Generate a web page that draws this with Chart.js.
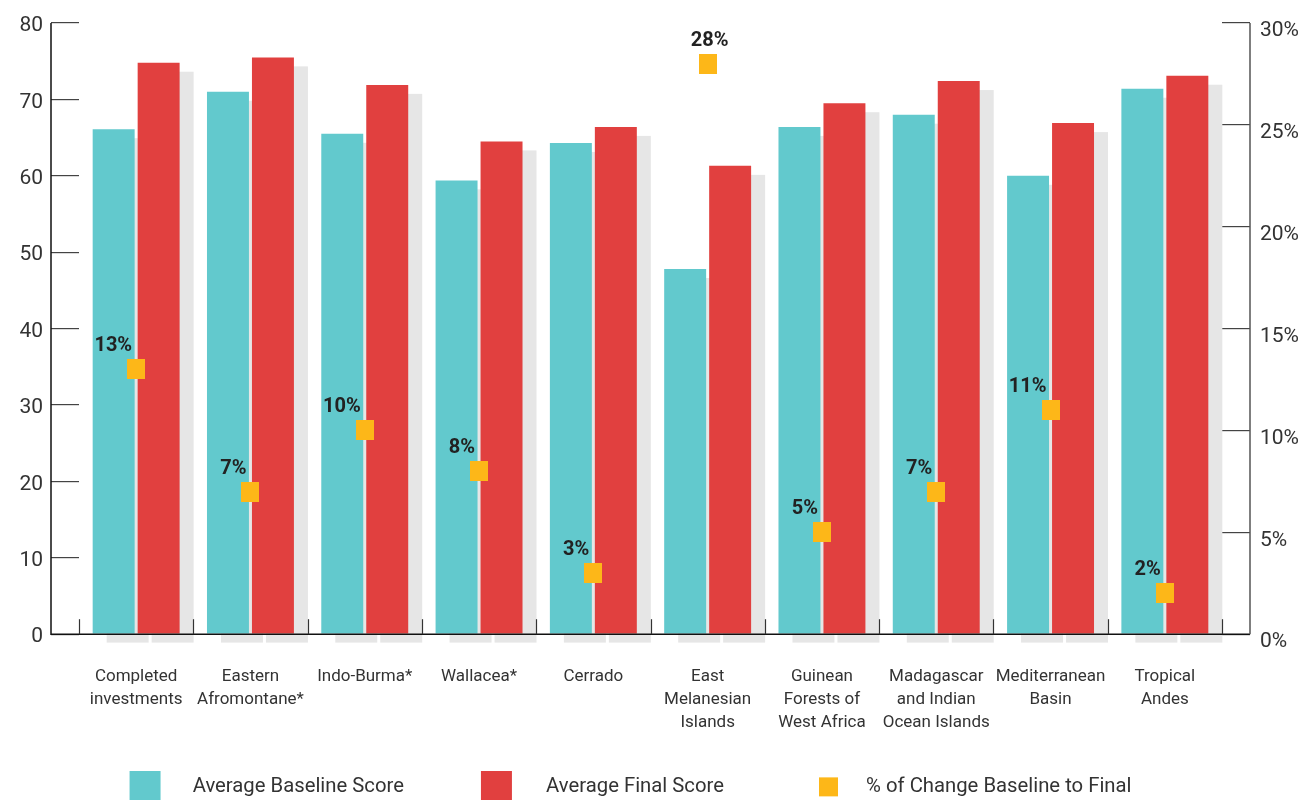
<!DOCTYPE html>
<html lang="en">
<head>
    <meta charset="UTF-8">
    <title>Average Baseline and Final Scores</title>
    <script src="https://cdn.jsdelivr.net/npm/chart.js"></script>
    <style>
        html, body {
            margin: 0;
            padding: 0;
            background: #ffffff;
            overflow: hidden;
        }
        .chart-container {
            width: 1300px;
            height: 800px;
        }
    </style>
</head>
<body>
    <div class="chart-container">
        <canvas id="scoreChart" width="1300" height="800"></canvas>
    </div>

    <script>
        // Chart data
        const categories = [
            ['Completed', 'investments'],
            ['Eastern', 'Afromontane*'],
            ['Indo-Burma*'],
            ['Wallacea*'],
            ['Cerrado'],
            ['East', 'Melanesian', 'Islands'],
            ['Guinean', 'Forests of', 'West Africa'],
            ['Madagascar', 'and Indian', 'Ocean Islands'],
            ['Mediterranean', 'Basin'],
            ['Tropical', 'Andes']
        ];
        const baselineScores = [66.1, 71.0, 65.5, 59.4, 64.3, 47.8, 66.4, 68.0, 60.0, 71.4];
        const finalScores = [74.8, 75.5, 71.9, 64.5, 66.4, 61.3, 69.5, 72.4, 66.9, 73.1];
        const changePercent = [13, 7, 10, 8, 3, 28, 5, 7, 11, 2];
        const seriesNames = ['Average Baseline Score', 'Average Final Score', '% of Change Baseline to Final'];
        const scoreTicks = [0, 10, 20, 30, 40, 50, 60, 70, 80];
        const percentTicks = [0, 5, 10, 15, 20, 25, 30];

        // Colours
        const TEAL = '#62c9cd';
        const RED = '#e1403f';
        const YELLOW = '#fdb718';
        const SHADOW = '#e6e6e6';
        const TEXT = '#333333';
        const FONT = 'Roboto, "Noto Sans", sans-serif';

        // Small helper to make canvas images for point styles
        function makeSwatch(w, h, color, bx, by, bw, bh) {
            const c = document.createElement('canvas');
            c.width = w;
            c.height = h;
            const g = c.getContext('2d');
            g.fillStyle = color;
            g.fillRect(bx, by, bw, bh);
            return c;
        }

        const pointSquare = makeSwatch(18, 20, YELLOW, 0, 0, 18, 20);
        // legend swatches carry their own left margin so the items spread out
        const LEGEND_W = 122;
        const legendSwatches = [
            makeSwatch(LEGEND_W, 31, TEAL, 69, 0, 31, 31),
            makeSwatch(LEGEND_W, 31, RED, 67, 0, 31, 31),
            makeSwatch(LEGEND_W, 31, YELLOW, 85, 6, 19, 19)
        ];

        // Grey offset "shadow" behind every bar
        const barShadow = {
            id: 'barShadow',
            beforeDatasetsDraw(chart) {
                const ctx = chart.ctx;
                ctx.save();
                ctx.fillStyle = SHADOW;
                [0, 1].forEach(i => {
                    chart.getDatasetMeta(i).data.forEach(bar => {
                        const p = bar.getProps(['x', 'y', 'base', 'width'], true);
                        ctx.fillRect(p.x - p.width / 2 + 14, p.y + 9, p.width, p.base - p.y);
                    });
                });
                ctx.restore();
            }
        };

        // Axis lines sit 28px outside the plot area, with short category ticks
        const axisFrame = {
            id: 'axisFrame',
            afterDatasetsDraw(chart) {
                const ctx = chart.ctx;
                const area = chart.chartArea;
                const left = area.left - 28;
                const right = area.right + 28;
                ctx.save();
                ctx.lineWidth = 1.5;
                ctx.strokeStyle = '#111111';
                ctx.beginPath();
                ctx.moveTo(left, area.top);
                ctx.lineTo(left, area.bottom);
                ctx.lineTo(right, area.bottom);
                ctx.stroke();
                ctx.strokeStyle = '#555555';
                ctx.beginPath();
                ctx.moveTo(right, area.top);
                ctx.lineTo(right, area.bottom);
                ctx.stroke();

                ctx.lineWidth = 1.2;
                ctx.strokeStyle = '#333333';
                const step = (area.right - area.left) / categories.length;
                for (let i = 0; i <= categories.length; i++) {
                    const x = Math.round(area.left + i * step) + 0.5;
                    ctx.beginPath();
                    ctx.moveTo(x, area.bottom - 15);
                    ctx.lineTo(x, area.bottom);
                    ctx.stroke();
                }
                ctx.restore();
            }
        };

        // Percent labels above the yellow markers
        const changeLabels = {
            id: 'changeLabels',
            afterDatasetsDraw(chart) {
                const ctx = chart.ctx;
                const meta = chart.getDatasetMeta(2);
                const teal = chart.getDatasetMeta(0).data;
                const red = chart.getDatasetMeta(1).data;
                ctx.save();
                ctx.font = 'bold 20px ' + FONT;
                ctx.fillStyle = '#222222';
                ctx.textBaseline = 'middle';
                meta.data.forEach((pt, i) => {
                    const text = changePercent[i] + '%';
                    const barTop = Math.min(teal[i].y, red[i].y);
                    if (pt.y < barTop - 20) {
                        ctx.textAlign = 'center';
                        ctx.fillText(text, pt.x + 2, pt.y - 23);
                    } else {
                        ctx.textAlign = 'right';
                        ctx.fillText(text, pt.x - 4, pt.y - 23);
                    }
                });
                ctx.restore();
            }
        };

        const ctx = document.getElementById('scoreChart').getContext('2d');
        const scoreChart = new Chart(ctx, {
            type: 'bar',
            data: {
                labels: categories,
                datasets: [
                    {
                        label: seriesNames[0],
                        data: baselineScores,
                        backgroundColor: TEAL,
                        yAxisID: 'y',
                        categoryPercentage: 0.787,
                        barPercentage: 0.933
                    },
                    {
                        label: seriesNames[1],
                        data: finalScores,
                        backgroundColor: RED,
                        yAxisID: 'y',
                        categoryPercentage: 0.787,
                        barPercentage: 0.933
                    },
                    {
                        type: 'line',
                        label: seriesNames[2],
                        data: changePercent,
                        yAxisID: 'y2',
                        showLine: false,
                        order: -1,
                        pointStyle: pointSquare,
                        pointRadius: 10,
                        pointHoverRadius: 10,
                        backgroundColor: YELLOW,
                        borderColor: YELLOW
                    }
                ]
            },
            options: {
                responsive: false,
                animation: false,
                events: [],
                layout: {
                    // negative left/bottom padding nudges the legend row into place
                    padding: { top: 23, bottom: -7, left: -108, right: 0 }
                },
                plugins: {
                    tooltip: { enabled: false },
                    legend: {
                        position: 'bottom',
                        labels: {
                            usePointStyle: true,
                            pointStyleWidth: LEGEND_W,
                            padding: 10,
                            color: TEXT,
                            font: { family: FONT, size: 20.3 },
                            generateLabels(chart) {
                                return seriesNames.map((name, i) => ({
                                    text: name,
                                    datasetIndex: i,
                                    pointStyle: legendSwatches[i],
                                    fillStyle: 'transparent',
                                    strokeStyle: 'transparent',
                                    lineWidth: 0,
                                    fontColor: TEXT,
                                    hidden: false
                                }));
                            }
                        }
                    }
                },
                scales: {
                    x: {
                        type: 'category',
                        offset: true,
                        grid: { display: false },
                        border: { display: false },
                        ticks: {
                            autoSkip: false,
                            maxRotation: 0,
                            padding: 23,
                            color: TEXT,
                            font: { family: FONT, size: 17, lineHeight: 1.35 }
                        },
                        afterFit(scale) { scale.height = 132.5; }
                    },
                    y: {
                        position: 'left',
                        min: scoreTicks[0],
                        max: scoreTicks[scoreTicks.length - 1],
                        afterBuildTicks(scale) {
                            scale.ticks = scoreTicks.map(v => ({ value: v }));
                        },
                        grid: {
                            drawOnChartArea: false,
                            tickLength: 28,
                            color: '#444444',
                            lineWidth: 1.2
                        },
                        border: { display: false },
                        ticks: {
                            padding: 8,
                            labelOffset: 3,
                            color: TEXT,
                            font: { family: FONT, size: 21 }
                        },
                        afterFit(scale) { scale.width = 187; }
                    },
                    y2: {
                        position: 'right',
                        min: percentTicks[0],
                        max: percentTicks[percentTicks.length - 1],
                        afterBuildTicks(scale) {
                            scale.ticks = percentTicks.map(v => ({ value: v }));
                        },
                        grid: {
                            drawOnChartArea: false,
                            tickLength: 28,
                            color: '#444444',
                            lineWidth: 1.2
                        },
                        border: { display: false },
                        ticks: {
                            padding: 10,
                            labelOffset: 8,
                            color: TEXT,
                            font: { family: FONT, size: 21 },
                            callback: v => v + '%'
                        },
                        afterFit(scale) { scale.width = 78; }
                    }
                }
            },
            plugins: [barShadow, axisFrame, changeLabels]
        });
    </script>
</body>
</html>
